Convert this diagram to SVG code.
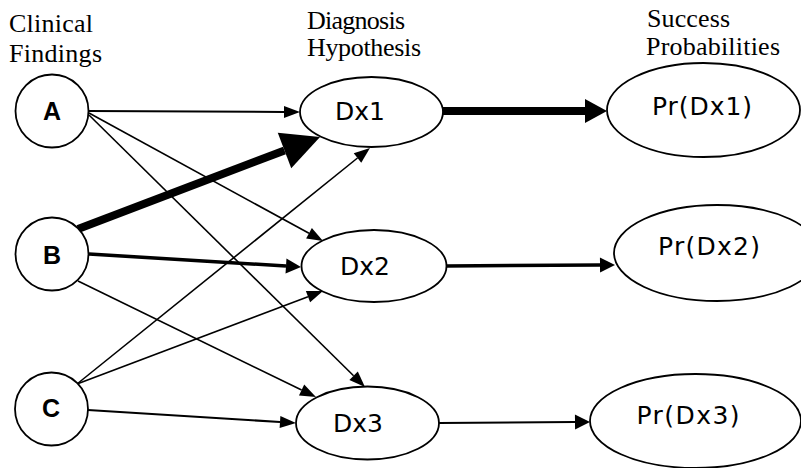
<svg xmlns="http://www.w3.org/2000/svg" width="801" height="468" viewBox="0 0 801 468">
<style>
.node{fill:#fff;stroke:#000;stroke-width:1.8}
.hdr{font-family:"Liberation Serif","Times New Roman",serif;font-size:26px;fill:#000}
.lbl{font-family:"Liberation Sans",Arial,sans-serif;font-size:25px;font-weight:bold;fill:#000;text-anchor:middle}
.dx{font-family:"DejaVu Sans",Verdana,sans-serif;font-size:25px;fill:#000;text-anchor:middle}
.c{stroke:#000;fill:none}
.t{stroke-width:1.6;marker-end:url(#thin)}
.m{stroke-width:3.5;marker-end:url(#med)}
.b{stroke-width:8}
</style>
<defs>
<marker id="thin" markerUnits="userSpaceOnUse" markerWidth="16" markerHeight="12" refX="0" refY="6" orient="auto" overflow="visible"><path d="M0,0 L16,6 L0,12 z" fill="#000"/></marker>
<marker id="med" markerUnits="userSpaceOnUse" markerWidth="15" markerHeight="15" refX="0" refY="7.5" orient="auto" overflow="visible"><path d="M0,0 L15,7.5 L0,15 z" fill="#000"/></marker>
<marker id="big" markerUnits="userSpaceOnUse" markerWidth="38" markerHeight="38" refX="0" refY="19" orient="auto" overflow="visible"><path d="M0,0 L38,19 L0,38 z" fill="#000"/></marker>
<marker id="wide" markerUnits="userSpaceOnUse" markerWidth="22" markerHeight="24" refX="0" refY="12" orient="auto" overflow="visible"><path d="M0,0 L22,12 L0,24 z" fill="#000"/></marker>
</defs>
<g id="headers">
<text class="hdr" x="9" y="32" textLength="84">Clinical</text>
<text class="hdr" x="9" y="62" textLength="93">Findings</text>
<text class="hdr" x="307" y="28.5" textLength="98">Diagnosis</text>
<text class="hdr" x="307" y="55.5" textLength="114">Hypothesis</text>
<text class="hdr" x="647" y="27" textLength="83">Success</text>
<text class="hdr" x="646" y="55" textLength="134">Probabilities</text>
</g>
<g id="connectors">
<line class="c t" x1="88" y1="111" x2="284" y2="111.9" style="stroke-width:2"/>
<line class="c t" x1="89" y1="113" x2="309" y2="233.3"/>
<line class="c t" x1="89" y1="115" x2="353.6" y2="375.8"/>
<line class="c b" x1="78" y1="229" x2="284.5" y2="150.5" marker-end="url(#big)"/>
<line class="c m" x1="89" y1="254" x2="286" y2="266"/>
<line class="c t" x1="78" y1="281" x2="301.6" y2="390"/>
<line class="c t" x1="77" y1="384" x2="357.5" y2="158"/>
<line class="c t" x1="77" y1="384" x2="308" y2="296.7"/>
<line class="c t" x1="88" y1="410" x2="280" y2="422" style="stroke-width:2"/>
<line class="c b" x1="443" y1="111" x2="585" y2="111" marker-end="url(#wide)"/>
<line class="c m" x1="446" y1="266" x2="600" y2="265"/>
<line class="c" x1="439" y1="423" x2="575" y2="422" stroke-width="2" marker-end="url(#med)"/>
</g>
<g id="A"><circle class="node" cx="52" cy="111" r="36.5"/><text class="lbl" x="52" y="119.5">A</text></g>
<g id="B"><circle class="node" cx="52" cy="254" r="36.5"/><text class="lbl" x="52" y="263.5">B</text></g>
<g id="C"><circle class="node" cx="51.5" cy="409" r="36.5"/><text class="lbl" x="51" y="417">C</text></g>
<g id="Dx1"><ellipse class="node" cx="371.5" cy="112" rx="71.5" ry="35"/><text class="dx" x="360" y="120">Dx1</text></g>
<g id="Dx2"><ellipse class="node" cx="374" cy="266" rx="72.5" ry="36"/><text class="dx" x="365" y="275">Dx2</text></g>
<g id="Dx3"><ellipse class="node" cx="367.5" cy="423" rx="71.5" ry="36.5"/><text class="dx" x="358" y="431.5">Dx3</text></g>
<g id="PrDx1"><ellipse class="node" cx="703.5" cy="110" rx="96.5" ry="47"/><text class="dx" x="702" y="115" textLength="100">Pr(Dx1)</text></g>
<g id="PrDx2"><ellipse class="node" cx="717" cy="253" rx="103" ry="48"/><text class="dx" x="709" y="255" textLength="102">Pr(Dx2)</text></g>
<g id="PrDx3"><ellipse class="node" cx="695.5" cy="421" rx="105.5" ry="47"/><text class="dx" x="688" y="423.5" textLength="103">Pr(Dx3)</text></g>
</svg>
